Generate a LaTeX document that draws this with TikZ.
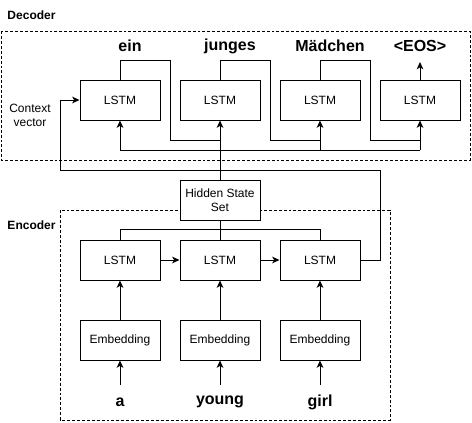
\documentclass[tikz,border=0pt]{standalone}
\usepackage{fontspec}
\setmainfont{Liberation Sans}
\usetikzlibrary{arrows.meta}
\begin{document}
\begin{tikzpicture}[x=0.75pt,y=-0.75pt,
  line width=0.75pt,
  box/.style={draw,fill=white,minimum width=60pt,minimum height=30pt,inner sep=0pt,font=\fontsize{9}{10.5}\selectfont,align=center},
  word/.style={font=\fontsize{12}{14}\selectfont\bfseries,inner sep=0pt},
  lbl/.style={font=\fontsize{9}{10.5}\selectfont,align=center,inner sep=0pt},
  grp/.style={draw,dashed,dash pattern=on 2.2pt off 1.5pt,line width=0.75pt},
  arr/.style={-{Stealth[length=5.5pt,width=5pt,inset=1.5pt]}}]
\useasboundingbox (0,0) rectangle (472,422);
% groups
\draw[grp] (1,31) rectangle (470,160);
\draw[grp] (60,210) rectangle (390,420);
\node[font=\fontsize{9}{10.5}\selectfont\bfseries,anchor=west,inner sep=0pt] (declbl) at (7,15) {Decoder};
\node[font=\fontsize{9}{10.5}\selectfont\bfseries,anchor=west,inner sep=0pt] (enclbl) at (7,225) {Encoder};
\node[lbl] (ctx) at (30,115) {Context\\vector};
% decoder
\node[box] (d1) at (120,100) {LSTM};
\node[box] (d2) at (220,100) {LSTM};
\node[box] (d3) at (320,100) {LSTM};
\node[box] (d4) at (420,100) {LSTM};
\node[word] (w1) at (130,46) {ein};
\node[word] (w2) at (230,46) {junges};
\node[word] (w3) at (330,46) {Mädchen};
\node[word] (w4) at (420,46) {<EOS>};
% hidden state
\node[box] (hs) at (220,200) {Hidden State\\Set};
% encoder
\node[box] (e1) at (120,260) {LSTM};
\node[box] (e2) at (220,260) {LSTM};
\node[box] (e3) at (320,260) {LSTM};
\node[box] (m1) at (120,340) {Embedding};
\node[box] (m2) at (220,340) {Embedding};
\node[box] (m3) at (320,340) {Embedding};
\node[word] (a) at (120,402) {a};
\node[word] (b) at (220,402) {young};
\node[word] (c) at (320,402) {girl};
\coordinate (ca) at (120,385);
\coordinate (cb) at (220,385);
\coordinate (cc) at (320,385);
% input arrows
\draw[arr] (ca) -- (m1.south);
\draw[arr] (cb) -- (m2.south);
\draw[arr] (cc) -- (m3.south);
\draw[arr] (m1) -- (e1);
\draw[arr] (m2) -- (e2);
\draw[arr] (m3) -- (e3);
\draw[arr] (e1) -- (e2);
\draw[arr] (e2) -- (e3);
% encoder to hidden state
\draw (e1.north) -- ++(0,-10) -| (e3.north);
\draw (e2.north) -- (hs.south);
% hidden state to decoder
\draw[arr] (hs.north) -- (d2.south);
\draw (d1.south |- 0,150) -- (d4.south |- 0,150);
\draw[arr] (d1.south |- 0,150) -- (d1.south);
\draw[arr] (d3.south |- 0,150) -- (d3.south);
\draw[arr] (d4.south |- 0,150) -- (d4.south);
% feedback
\draw (d1.north) -- (120,60) -- (170,60) -- (170,140) -- (d2.south |- 0,140);
\draw (d2.north) -- (220,60) -- (270,60) -- (270,140) -- (d3.south |- 0,140);
\draw (d3.north) -- (320,60) -- (370,60) -- (370,140) -- (d4.south |- 0,140);
\coordinate (eos) at (420,62);
\draw[arr] (d4.north) -- (eos);
% context vector
\draw[arr] (e3.east) -- (380,260) -- (380,170) -- (60,170) -- (60,100) -- (d1.west);
\end{tikzpicture}
\end{document}
